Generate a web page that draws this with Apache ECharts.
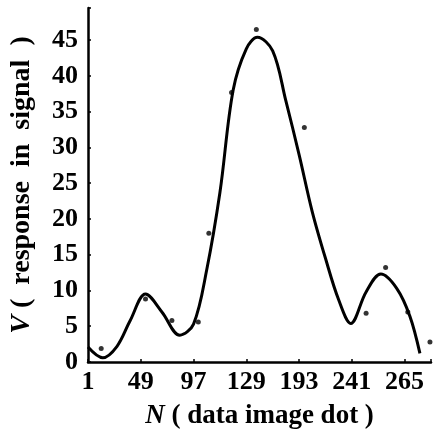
<!DOCTYPE html>
<html>
<head>
<meta charset="utf-8">
<script src="https://cdn.jsdelivr.net/npm/echarts@6/dist/echarts.min.js"></script>
<style>
    html, body { margin: 0; padding: 0; background: #fff; }
    #chart { width: 434px; height: 435px; }
</style>
</head>
<body>
<div id="chart"></div>
<script>
// x tick labels (N), placed one per axis step
let xTickLabels = ["1", "49", "97", "129", "193", "241", "265"];
// fitted curve: position on the N axis (in tick steps) and V, peaks and troughs included
let curvePos = [0, 0.28, 0.55, 0.8, 1.09, 1.4, 1.74, 2.0, 2.25, 2.5, 2.75, 3.0, 3.21, 3.5, 3.75, 4.0, 4.25, 4.5, 4.75, 4.98, 5.27, 5.55, 5.85, 6.1, 6.29];
let curveV = [2.1, 0.6, 2.2, 5.8, 9.5, 7.0, 3.75, 5.3, 12.9, 23.7, 38.0, 43.8, 45.4, 43.5, 36.5, 29.0, 21.0, 14.5, 8.7, 5.4, 9.8, 12.3, 10.3, 6.4, 1.2];
// measured points
let dotPos = [0.25, 1.09, 1.59, 2.09, 2.29, 2.72, 3.19, 4.10, 5.27, 5.64, 6.06, 6.48];
let dotV = [1.9, 8.8, 5.8, 5.6, 18.0, 37.7, 46.5, 32.8, 6.8, 13.2, 7.0, 2.8];

(function () {
    let myChart = echarts.init(document.getElementById("chart"));
    let font = "'Liberation Serif', 'DejaVu Serif', serif";

    let curveData = curvePos.map(function (p, i) { return [p, curveV[i]]; });
    let dotData = dotPos.map(function (p, i) { return [p, dotV[i]]; });

    let option = {
        animation: false,
        backgroundColor: "#fff",
        grid: {
            left: 85,
            right: 2,
            top: 8,
            bottom: 73
        },
        xAxis: {
            type: "value",
            min: 0,
            max: 6.5,
            interval: 1,
            splitLine: { show: false },
            axisLine: { lineStyle: { color: "#000", width: 2.5 } },
            axisTick: { inside: true, length: 3, lineStyle: { color: "#000", width: 1.5 } },
            axisLabel: {
                color: "#000",
                fontFamily: font,
                fontWeight: "bold",
                fontSize: 26,
                margin: 7,
                formatter: function (v) {
                    return Number.isInteger(v) && xTickLabels[v] ? xTickLabels[v] : "";
                }
            },
            name: "{i|N}{n| ( data image dot )}",
            nameLocation: "middle",
            nameGap: 41,
            nameTextStyle: {
                rich: {
                    i: { fontFamily: font, fontStyle: "italic", fontWeight: "bold", fontSize: 27, color: "#000" },
                    n: { fontFamily: font, fontWeight: "bold", fontSize: 27, color: "#000" }
                }
            }
        },
        yAxis: {
            type: "value",
            min: 0,
            max: 49.5,
            interval: 5,
            splitLine: { show: false },
            axisLine: { lineStyle: { color: "#000", width: 2.5 } },
            axisTick: { inside: true, length: 3, lineStyle: { color: "#000", width: 1.5 } },
            axisLabel: {
                color: "#000",
                fontFamily: font,
                fontWeight: "bold",
                fontSize: 26,
                margin: 10,
                formatter: function (v) {
                    return v % 5 === 0 ? String(v) : "";
                }
            },
            name: "{i|V}{n| (  response  in  signal  )}",
            nameLocation: "middle",
            nameGap: 52,
            nameTextStyle: {
                rich: {
                    i: { fontFamily: font, fontStyle: "italic", fontWeight: "bold", fontSize: 28, color: "#000" },
                    n: { fontFamily: font, fontWeight: "bold", fontSize: 28, color: "#000" }
                }
            }
        },
        series: [
            {
                type: "line",
                data: curveData,
                smooth: 0.35,
                symbol: "none",
                lineStyle: { color: "#000", width: 3 }
            },
            {
                type: "scatter",
                data: dotData,
                symbolSize: 5,
                clip: false,
                itemStyle: { color: "#000" }
            }
        ]
    };
    myChart.setOption(option);
    window.addEventListener("resize", function () {
        myChart.resize();
    });
})();
</script>
</body>
</html>
